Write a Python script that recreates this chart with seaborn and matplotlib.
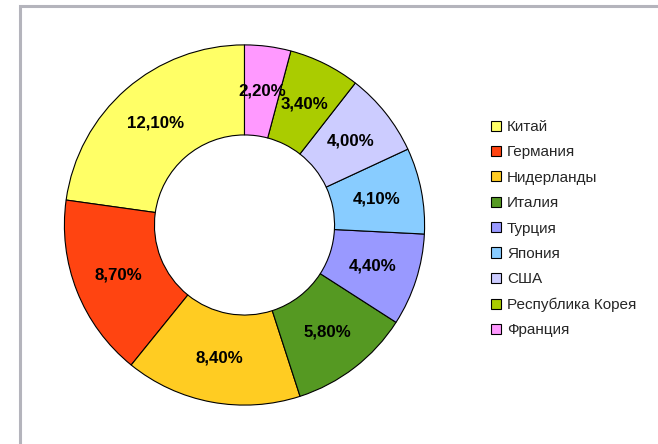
import matplotlib
matplotlib.use("Agg")
import matplotlib.pyplot as plt
import seaborn as sns
from matplotlib.patches import Patch, Rectangle

# --------------------------------------------------
# Data
# --------------------------------------------------
countries = ["Китай", "Германия", "Нидерланды", "Италия", "Турция",
             "Япония", "США", "Республика Корея", "Франция"]
shares = [12.10, 8.70, 8.40, 5.80, 4.40, 4.10, 4.00, 3.40, 2.20]
colors = ["#FFFF66", "#FF4411", "#FFCC22", "#559922", "#9999FF",
          "#88CCFF", "#CCCCFF", "#AACC00", "#FF99FF"]

sns.set_theme(style="white")
plt.rcParams["font.family"] = ["Liberation Sans", "DejaVu Sans"]

fig = plt.figure(figsize=(6.58, 4.44), dpi=100)
fig.patch.set_facecolor("white")

# chart frame (only top and left edges visible)
fig.add_artist(Rectangle((20 / 658, -0.2), 1.5, 0.2 + (444 - 6) / 444,
                         transform=fig.transFigure, fill=False,
                         edgecolor="#b4b4bc", linewidth=2.2))

ax = fig.add_axes([63.5 / 658, 38 / 444, 362 / 658, 362 / 444])

total = sum(shares)


def fmt(pct):
    return f"{pct * total / 100:.2f}%".replace(".", ",")


wedges, texts, autotexts = ax.pie(
    shares, colors=colors, startangle=90, counterclock=True,
    autopct=fmt, pctdistance=0.75,
    wedgeprops=dict(width=0.5, edgecolor="black", linewidth=0.8),
    textprops=dict(fontsize=12.2, fontweight="bold", color="black"),
)
ax.set_xlim(-1.005, 1.005)
ax.set_ylim(-1.005, 1.005)
ax.set_aspect("equal")

handles = [Patch(facecolor=c, edgecolor="black", linewidth=0.8) for c in colors]
fig.legend(handles, countries, loc="upper left",
           bbox_to_anchor=(491 / 658, 1 - 120 / 444),
           frameon=False, fontsize=11, handlelength=0.65, handleheight=0.65,
           handletextpad=0.4, labelspacing=0.745, borderpad=0, borderaxespad=0)

plt.savefig("out.png", dpi=100)
